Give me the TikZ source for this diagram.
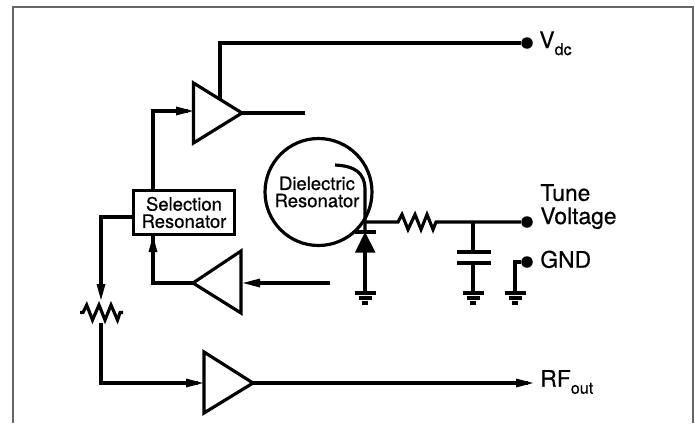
\documentclass[tikz,border=0pt]{standalone}
\usepackage{fontspec}
\setmainfont{TeX Gyre Heros}[RawFeature={embolden=0.5}]
\newcommand{\pinsub}[1]{\raisebox{-4pt}{\fontsize{9.2}{9.2}\selectfont #1}}
\tikzset{
  wire/.style={black,line width=1.8pt,line join=miter},
  framebox/.style={draw=black!60,line width=0.8pt},
  dotnode/.style={circle,fill=black,inner sep=0pt,minimum size=0.23cm},
  smalltext/.style={align=center,font=\fontsize{10.5}{9.8}\selectfont,inner sep=0pt},
  pintext/.style={anchor=base west,inner sep=0pt,font=\fontsize{13}{13.2}\selectfont}
}
\begin{document}
\begin{tikzpicture}[x=0.02cm,y=0.02cm]
\useasboundingbox (0,0) rectangle (695,-423);
\draw [framebox] (13,-423) -- (13,-7) -- (693,-7) -- (693,-423);
% pins
\node [dotnode] (vdc) at (527,-43) {};
\node [dotnode] (tune) at (527,-222) {};
\node [dotnode] (gnd) at (527,-262) {};
\node [pintext] (vdclabel) at (539,-48) {V\pinsub{dc}};
\node [pintext,anchor=west,align=left] (tunelabel) at (540,-206.6) {Tune\\Voltage};
\node [pintext] (gndlabel) at (540,-267.7) {GND};
\node [pintext] (rflabel) at (540,-386.7) {RF\pinsub{out}};
% blocks
\node [wire,draw,fill=white,minimum width=2.02cm,minimum height=0.88cm,smalltext] (selres) at (184,-212.5) {Selection\\Resonator};
\node [wire,draw,circle,minimum size=2.14cm,inner sep=0pt] (dielres) at (318.5,-192) {};
\node [smalltext] (dieltext) at (317,-192) {Dielectric\\Resonator};
% top amplifier
\coordinate (topa) at (193.5,-83);
\coordinate (topb) at (193.5,-143);
\coordinate (topc) at (242,-113);
\coordinate (topend) at (305,-113);
\draw [wire] (topa) -- (topc) -- (topb) -- cycle;
\draw [wire] (topc) -- (topend);
\coordinate (vdccorner) at (220,-43);
\coordinate (vdcdrop) at (220,-99);
\draw [wire] (vdc) -- (vdccorner) -- (vdcdrop);
\coordinate (topcorner) at (153,-111);
\coordinate (topin) at (188,-111);
\draw [wire] (topcorner |- selres.north) -- (topcorner) -- (topin);
\fill [black] (193,-111) -- (176,-106.5) -- (176,-115.5);
% return amplifier
\coordinate (reta) at (241,-251);
\coordinate (retb) at (241,-313);
\coordinate (retc) at (193,-283);
\draw [wire] (reta) -- (retb) -- (retc) -- cycle;
\coordinate (retstart) at (330,-283);
\coordinate (retin) at (250,-283);
\draw [wire] (retstart) -- (retin);
\fill [black] (243,-283) -- (260,-278.5) -- (260,-287.5);
\coordinate (retcorner) at (153,-283);
\draw [wire] (retc) -- (retcorner) -- (retcorner |- selres.south);
\fill [black] (153,-236) -- (148.5,-252) -- (157.5,-252);
% attenuator
\coordinate (attencorner) at (101,-217);
\coordinate (attenin) at (101,-290);
\draw [wire] (selres.west |- attencorner) -- (attencorner) -- (attenin);
\fill [black] (101,-300) -- (96.5,-284) -- (105.5,-284);
\draw [wire] (80,-312.5) -- (83,-312.5) -- (86.7,-305) -- (92.5,-320) -- (99,-305) -- (105,-320) -- (111,-305) -- (117.5,-320) -- (120,-312.5) -- (123,-312.5);
% output amplifier
\coordinate (outa) at (204,-352);
\coordinate (outb) at (204,-413);
\coordinate (outc) at (253,-383);
\coordinate (outcorner) at (101,-383);
\coordinate (attenout) at (101,-323);
\coordinate (outin) at (198,-383);
\coordinate (outend) at (528,-383);
\draw [wire] (outa) -- (outc) -- (outb) -- cycle;
\draw [wire] (attenout) -- (outcorner) -- (outin);
\fill [black] (203,-383) -- (186,-378.5) -- (186,-387.5);
\draw [wire] (outc) -- (outend);
\fill [black] (533,-383) -- (516,-378.5) -- (516,-387.5);
% tune line
\coordinate (junction) at (365,-222);
\coordinate (resin) at (398,-222);
\coordinate (capnode) at (473,-222);
\draw [wire] (junction) -- (resin) -- (402,-214.5) -- (408,-229.5) -- (415,-214.5) -- (421,-229.5) -- (427,-214.5) -- (433,-229.5) -- (436,-222) -- (capnode) -- (tune);
% coupling loop and diode
\coordinate (loopstart) at (335,-165);
\coordinate (diodetop) at (365,-232);
\draw [wire] (loopstart) .. controls (354,-166) and (365,-172) .. (365,-190) -- (diodetop);
\draw [wire] (355,-232) -- (375.5,-232);
\fill [black] (diodetop) -- (355,-252.5) -- (375.5,-252.5) -- cycle;
\coordinate (gnda) at (365,-293);
\draw [wire] (365,-252) -- (gnda);
% capacitor
\coordinate (gndb) at (473,-293);
\draw [wire] (capnode) -- (473,-252);
\draw [wire] (457,-252) -- (491,-252);
\draw [wire] (457,-263) -- (491,-263);
\draw [wire] (473,-263) -- (gndb);
% ground pin
\coordinate (gndc) at (515,-293);
\coordinate (gndcorner) at (515,-262);
\draw [wire] (gnd) -- (gndcorner) -- (gndc);
\foreach \g in {gnda,gndb,gndc} {
  \draw [wire] (\g) ++(-10.5,0) -- ++(21,0);
  \draw [wire] (\g) ++(-6.5,-5) -- ++(13,0);
  \draw [wire] (\g) ++(-3,-10) -- ++(6,0);
}
\end{tikzpicture}
\end{document}
